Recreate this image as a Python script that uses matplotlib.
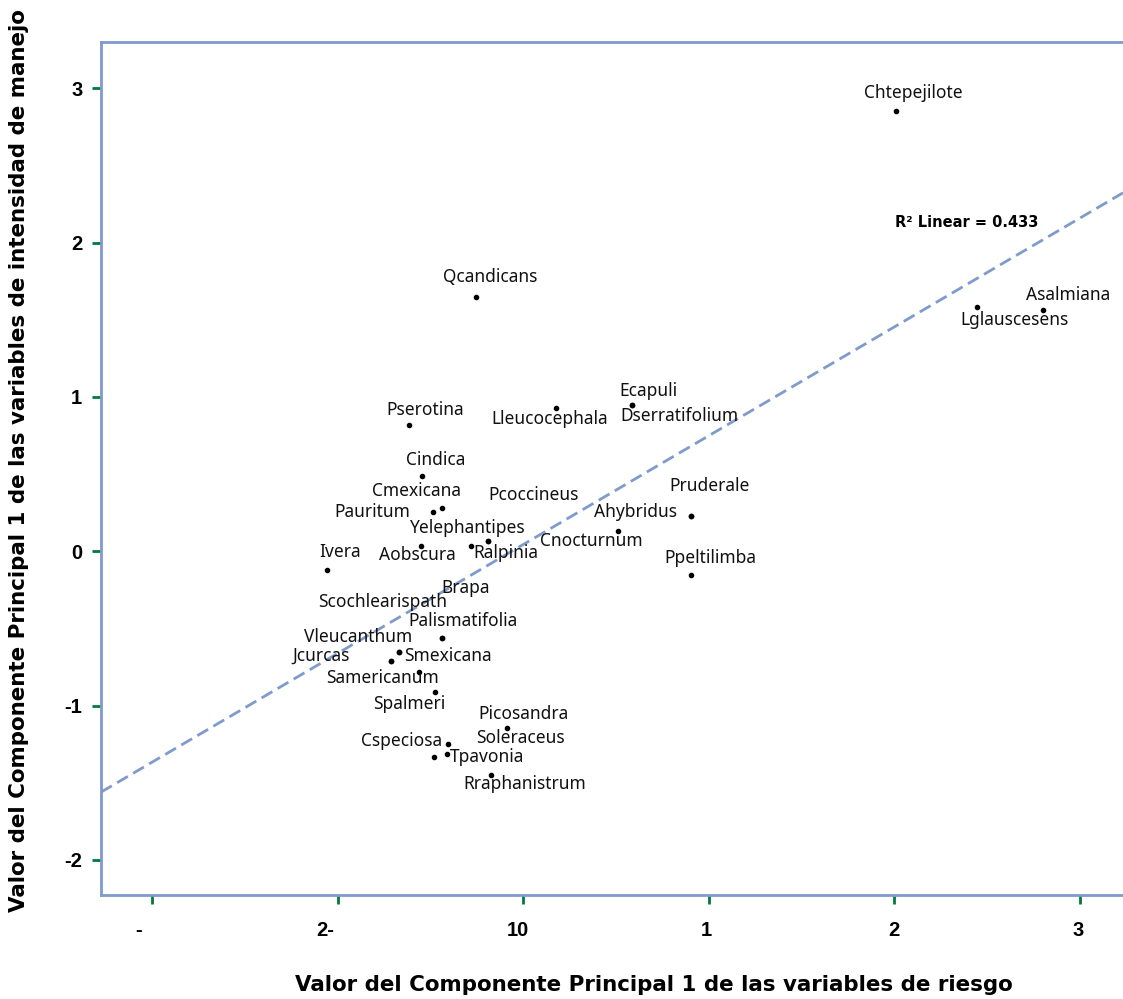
import matplotlib
matplotlib.use("Agg")
import matplotlib.pyplot as plt
from matplotlib.transforms import ScaledTranslation

plt.rcParams["axes.unicode_minus"] = False

# species names and their scores (x: risk PC1, y: management intensity PC1)
species = ["Chtepejilote", "Asalmiana", "Lglauscesens", "Qcandicans", "Ecapuli",
           "Dserratifolium", "Lleucocephala", "Pserotina", "Cindica", "Cmexicana",
           "Pauritum", "Yelephantipes", "Ralpinia", "Pcoccineus", "Aobscura",
           "Ivera", "Cnocturnum", "Ahybridus", "Pruderale", "Ppeltilimba",
           "Brapa", "Palismatifolia", "Scochlearispath", "Vleucanthum", "Smexicana",
           "Jcurcas", "Samericanum", "Spalmeri", "Picosandra", "Soleraceus",
           "Cspeciosa", "Tpavonia", "Rraphanistrum"]
risk_pc1 = [2.008, 2.802, 2.446, -0.255, 0.584,
            0.584, 0.174, -0.615, -0.549, -0.439,
            -0.489, -0.189, -0.284, -0.189, -0.553,
            -1.057, 0.508, 0.902, 0.902, 0.903,
            -0.440, -0.440, -0.671, -0.714, -0.671,
            -0.714, -0.563, -0.475, -0.090, -0.482,
            -0.405, -0.413, -0.176]
manejo_pc1 = [2.851, 1.565, 1.582, 1.647, 0.949,
              0.949, 0.929, 0.821, 0.490, 0.280,
              0.252, 0.064, 0.036, 0.064, 0.036,
              -0.119, 0.130, 0.226, 0.226, -0.154,
              -0.562, -0.562, -0.651, -0.709, -0.651,
              -0.709, -0.785, -0.911, -1.144, -1.332,
              -1.250, -1.315, -1.449]

# label offsets from each point, in pixels (layout only)
label_dx = [17, 25, 37, 14, 17, 48, -6, 16, 14, -25, -60, -22, 35, 45, -3,
            13, -26, -55, 19, 19, 24, 21, -16, -33, 49, -70, -36, -26, 17, 86,
            -47, 40, 34]
label_dy = [18, 15, -13, 20, 14, -11, -11, 15, 16, 17, 0, 13, -7, 46, -9,
            18, -10, 4, 30, 17, 50, 17, 50, 24, -4, 5, -6, -12, 14, 19,
            3, -3, -9]

# fit line
fit_slope = 0.705
fit_intercept = 0.044
r2_text = "R\u00b2 Linear = 0.433"

x_ticks = [-2, -1, 0, 1, 2, 3]
x_ticklabels = ["-", "2-", "10", "1", "2", "3"]
x_label_shift = [-14, -13, -6, -3, -1, -2]
y_ticks = [-2, -1, 0, 1, 2, 3]

spine_col = "#7f9bcb"
tick_col = "#007a3d"

fig = plt.figure(figsize=(11.23, 9.99), dpi=100)
ax = fig.add_axes([101 / 1123, 104 / 999, 1022 / 1123, 853 / 999])

ax.set_xlim(-2.277, 3.232)
ax.set_ylim(-2.228, 3.30)

ax.axline((0, fit_intercept), slope=fit_slope, color=spine_col, lw=2,
          linestyle=(0, (4.5, 2.2)), zorder=1)

ax.scatter(risk_pc1, manejo_pc1, s=9, color="black", zorder=3)

for name, x, y, dx, dy in zip(species, risk_pc1, manejo_pc1, label_dx, label_dy):
    ax.annotate(name, (x, y), xytext=(dx, dy), textcoords="offset pixels",
                ha="center", va="center", fontsize=12.5, family="Noto Sans",
                color="#111111")

ax.text(2.389, 2.133, r2_text, ha="center", va="center", fontsize=10.5,
        fontweight="bold", family="DejaVu Sans")

for side in ["top", "left", "bottom"]:
    ax.spines[side].set_color(spine_col)
    ax.spines[side].set_linewidth(2)
ax.spines["right"].set_visible(False)

ax.set_xticks(x_ticks)
ax.set_xticklabels(x_ticklabels)
ax.set_yticks(y_ticks)
ax.tick_params(axis="both", direction="out", length=6.5, width=2,
               color=tick_col, labelsize=14.5)
ax.tick_params(axis="x", pad=12)
ax.tick_params(axis="y", pad=7)
for lab in ax.get_xticklabels() + ax.get_yticklabels():
    lab.set_fontweight("bold")
    lab.set_family("Liberation Sans")
for lab, dx in zip(ax.get_xticklabels(), x_label_shift):
    lab.set_transform(lab.get_transform() + ScaledTranslation(dx / 100, 0, fig.dpi_scale_trans))

fig.text(654 / 1123, 1 - 985 / 999, "Valor del Componente Principal 1 de las variables de riesgo",
         ha="center", va="center", fontsize=15.4, fontweight="bold", family="DejaVu Sans")
fig.text(19 / 1123, 1 - 461 / 999,
         "Valor del Componente Principal 1 de las variables de intensidad de manejo",
         ha="center", va="center", rotation=90, fontsize=15.4, fontweight="bold",
         family="DejaVu Sans")

fig.savefig("out.png", dpi=100)
